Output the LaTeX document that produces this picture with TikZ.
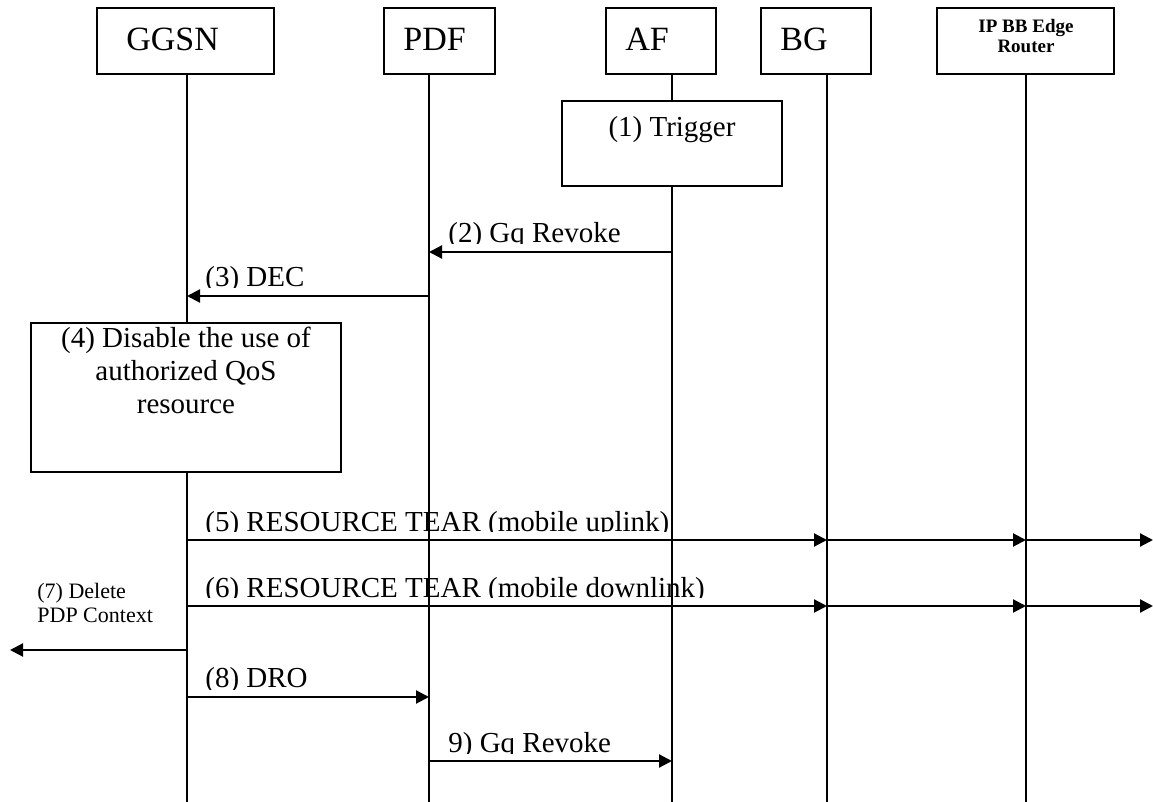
\documentclass[tikz,border=0pt]{standalone}
\usepackage{fontspec}
\setmainfont{Liberation Serif}
\usetikzlibrary{arrows.meta}
\begin{document}
\begin{tikzpicture}[x=0.5pt,y=-0.5pt,
  entity/.style={draw, line width=0.9pt, fill=white, inner sep=0pt, minimum height=33pt},
  stepbox/.style={draw, line width=0.9pt, fill=white, inner sep=0pt},
  life/.style={line width=0.7pt},
  msg/.style={line width=1.1pt, -{Triangle[length=6.5pt,width=6.5pt]}},
  toplbl/.style={inner sep=0pt, font=\fontsize{17}{20}\selectfont},
  lbl/.style={inner sep=0pt, font=\fontsize{14.5}{16.5}\selectfont},
  small/.style={inner sep=0pt, font=\fontsize{11}{12}\selectfont, align=left},
]
\useasboundingbox (0,0) rectangle (1153,802);

% lifeline feet
\coordinate (ggsnL) at (187,802);
\coordinate (pdfL)  at (429,802);
\coordinate (afL)   at (672,802);
\coordinate (bgL)   at (827,802);
\coordinate (ipL)   at (1026,802);

% entity boxes
\node[entity, minimum width=88.5pt] (ggsn) at (185.5,41) {};
\node[entity, minimum width=55.5pt] (pdf)  at (439.5,41) {};
\node[entity, minimum width=55pt]   (af)   at (661,41) {};
\node[entity, minimum width=55pt]   (bg)   at (816,41) {};
\node[entity, minimum width=88.5pt] (ip)   at (1025.5,41) {};

\node[toplbl, anchor=base west] (ggsnT) at (126,51) {GGSN};
\node[toplbl, anchor=base west] (pdfT)  at (403,51) {PDF};
\node[toplbl, anchor=base west] (afT)   at (625,51) {AF};
\node[toplbl, anchor=base west] (bgT)   at (780,51) {BG};
\node[inner sep=0pt, align=center, font=\fontsize{9.5}{10}\selectfont\bfseries] (ipT) at (1026,36) {IP BB Edge\\Router};

% lifelines
\draw[life] (ggsn.south -| ggsnL) -- (ggsnL);
\draw[life] (pdf.south -| pdfL) -- (pdfL);
\draw[life] (af.south -| afL) -- (afL);
\draw[life] (bg.south -| bgL) -- (bgL);
\draw[life] (ip.south -| ipL) -- (ipL);

% (1) trigger at the AF
\node[stepbox, minimum width=110pt, minimum height=42.5pt] (trig) at (672,143.5) {};
\node[lbl] (trigT) at (672,130) {(1) Trigger};

% (4) local action at the GGSN
\node[stepbox, minimum width=155pt, minimum height=74.5pt] (dis) at (186,397.5) {};
\node[lbl, align=center] (disT) at (186,370) {(4) Disable the use of\\authorized QoS\\resource};

% message rows
\path (0,252) coordinate (y2) (0,296) coordinate (y3) (0,540) coordinate (y5)
      (0,606) coordinate (y6) (0,650) coordinate (y7) (0,697) coordinate (y8)
      (0,761) coordinate (y9);
\coordinate (outR5) at (1153,540);
\coordinate (outR6) at (1153,606);
\coordinate (outL7) at (10,650);

\draw[msg] (afL |- y2) -- (pdfL |- y2);
\draw[msg] (pdfL |- y3) -- (ggsnL |- y3);
\draw[msg] (ggsnL |- y5) -- (bgL |- y5);
\draw[msg] (bgL |- y5) -- (ipL |- y5);
\draw[msg] (ipL |- y5) -- (outR5);
\draw[msg] (ggsnL |- y6) -- (bgL |- y6);
\draw[msg] (bgL |- y6) -- (ipL |- y6);
\draw[msg] (ipL |- y6) -- (outR6);
\draw[msg] (ggsnL |- y7) -- (outL7);
\draw[msg] (ggsnL |- y8) -- (pdfL |- y8);
\draw[msg] (pdfL |- y9) -- (afL |- y9);

% message labels, cut off at the bottom of their text frames
\begin{scope}
  \clip (440,200) rectangle (700,244);
  \node[lbl, anchor=base west] (l2) at (448,243) {(2) Gq Revoke};
\end{scope}
\begin{scope}
  \clip (195,250) rectangle (420,288);
  \node[lbl, anchor=base west] (l3) at (205,287) {(3) DEC};
\end{scope}
\begin{scope}
  \clip (195,500) rectangle (800,532);
  \node[lbl, anchor=base west] (l5) at (205,531) {(5) RESOURCE TEAR (mobile uplink)};
\end{scope}
\begin{scope}
  \clip (195,560) rectangle (800,598);
  \node[lbl, anchor=base west] (l6) at (205,597) {(6) RESOURCE TEAR (mobile downlink)};
\end{scope}
\begin{scope}
  \clip (195,650) rectangle (420,689);
  \node[lbl, anchor=base west] (l8) at (205,688) {(8) DRO};
\end{scope}
\begin{scope}
  \clip (440,715) rectangle (700,753);
  \node[lbl, anchor=base west] (l9) at (448,752) {9) Gq Revoke};
\end{scope}

\node[small, anchor=north west] (l7) at (37,583) {(7) Delete\\PDP Context};
\end{tikzpicture}
\end{document}
